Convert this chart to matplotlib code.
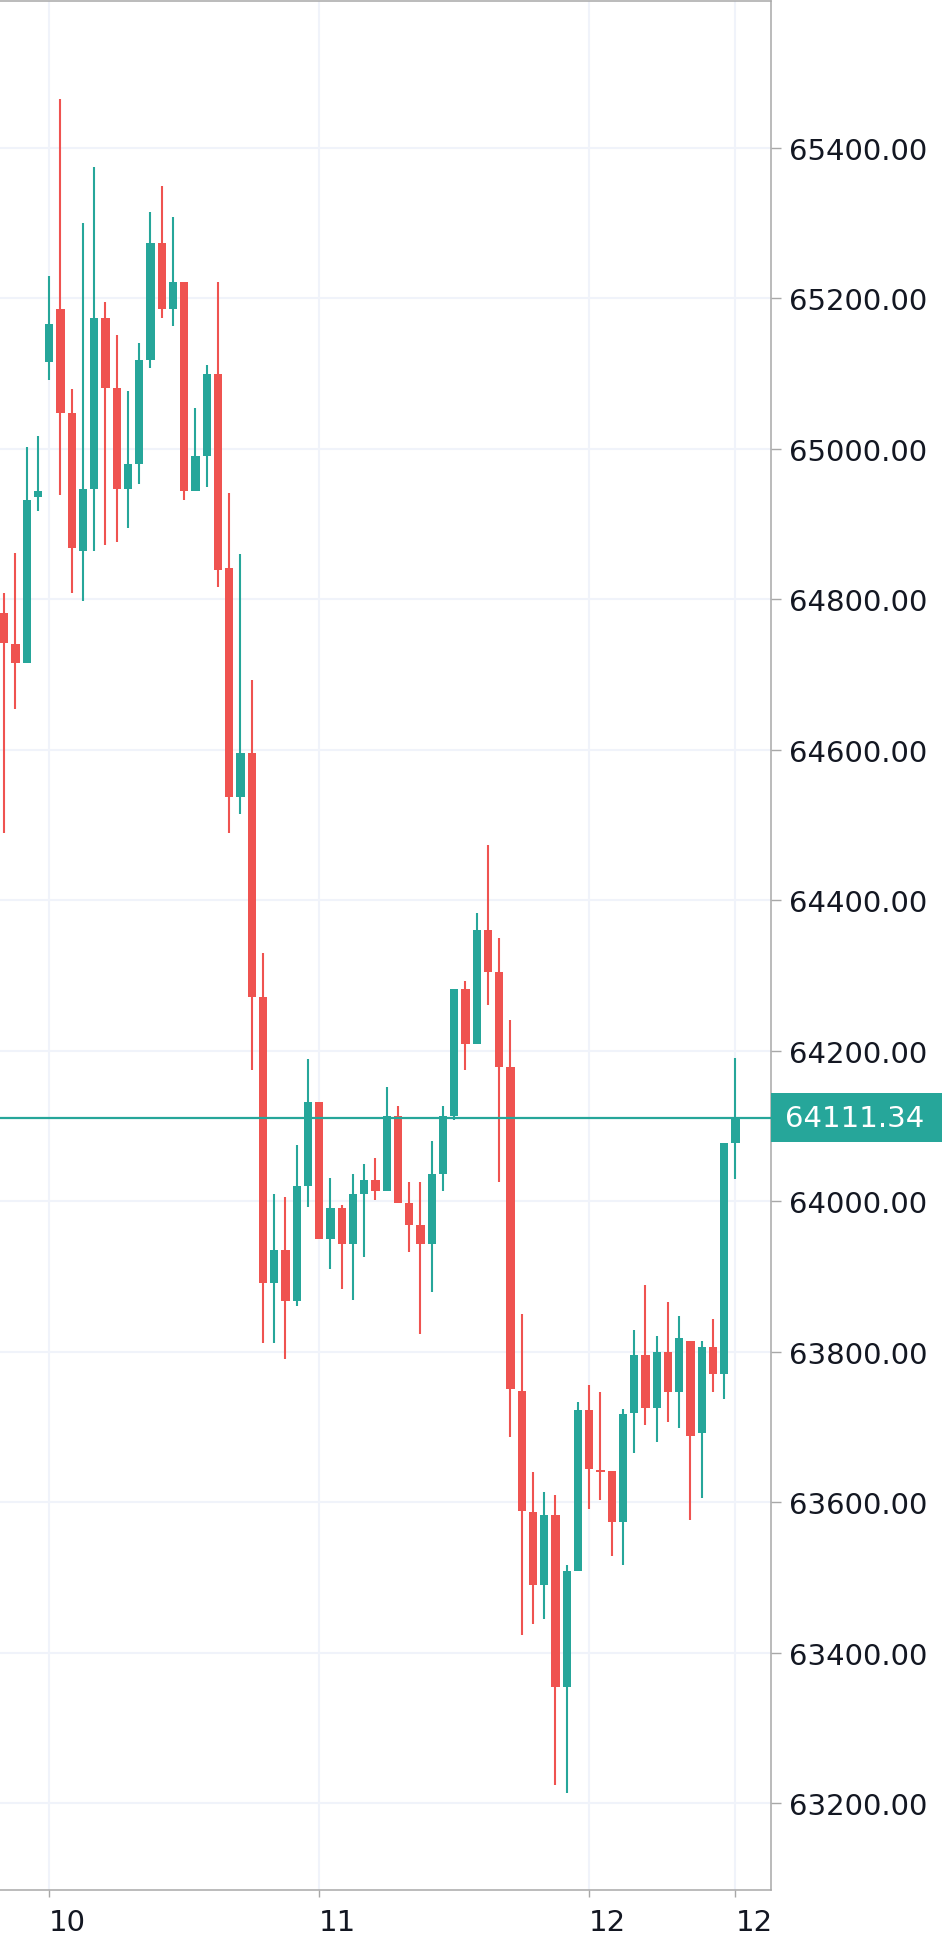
import numpy as np
import matplotlib
matplotlib.use("Agg")
import matplotlib.pyplot as plt
from matplotlib.patches import Rectangle
from matplotlib.transforms import blended_transform_factory

# hourly candles
opens = [64782, 64741, 64715, 64936, 65115, 65186, 65048, 64864, 64947, 65174,
         65081, 64947, 64980, 65118, 65274, 65186, 65222, 64944, 64991, 65099,
         64842, 64537, 64596, 64271, 63891, 63935, 63868, 64020, 64132, 63950,
         63991, 63943, 64009, 64028, 64014, 64113, 63998, 63969, 63943, 64036,
         64113, 64282, 64209, 64361, 64305, 64178, 63748, 63587, 63490, 63583,
         63355, 63509, 63722, 63642, 63642, 63573, 63718, 63795, 63725, 63799,
         63747, 63814, 63692, 63806, 63770, 64078]
highs = [64809, 64862, 65003, 65017, 65230, 65465, 65080, 65301, 65375, 65196,
         65152, 65077, 65141, 65315, 65350, 65308, 65222, 65055, 65111, 65222,
         64942, 64861, 64693, 64330, 64009, 64006, 64075, 64189, 64132, 64031,
         63995, 64036, 64050, 64058, 64152, 64126, 64025, 64025, 64080, 64126,
         64282, 64293, 64383, 64473, 64350, 64241, 63850, 63640, 63613, 63609,
         63516, 63733, 63756, 63747, 63642, 63724, 63829, 63889, 63821, 63866,
         63848, 63814, 63814, 63843, 64078, 64190]
lows = [64490, 64655, 64715, 64918, 65092, 64939, 64808, 64798, 64864, 64872,
        64876, 64895, 64954, 65107, 65174, 65163, 64932, 64944, 64950, 64817,
        64489, 64515, 64175, 63812, 63812, 63790, 63861, 63992, 63950, 63910,
        63884, 63869, 63926, 64002, 64014, 63998, 63932, 63824, 63879, 64014,
        64108, 64175, 64209, 64261, 64026, 63686, 63423, 63438, 63445, 63224,
        63213, 63509, 63591, 63603, 63528, 63517, 63666, 63703, 63680, 63706,
        63699, 63576, 63606, 63747, 63737, 64030]
closes = [64742, 64715, 64932, 64944, 65166, 65048, 64868, 64947, 65174, 65081,
          64947, 64980, 65118, 65274, 65186, 65222, 64944, 64991, 65099, 64839,
          64537, 64596, 64271, 63891, 63935, 63868, 64020, 64132, 63950, 63991,
          63943, 64009, 64028, 64014, 64113, 63998, 63969, 63943, 64036, 64113,
          64282, 64209, 64361, 64305, 64179, 63750, 63588, 63490, 63583, 63355,
          63509, 63722, 63644, 63640, 63573, 63717, 63795, 63725, 63799, 63747,
          63818, 63688, 63806, 63770, 64078, 64111.34]

last_price = 64111.34
tick_idx = [4, 28, 52, 65]
tick_labels = ["10", "11", "12", "12"]
price_ticks = list(range(63200, 65401, 200))

up_col = "#26a69a"
down_col = "#ef5350"
axis_col = "#a8a8a8"
grid_col = "#f0f3fa"
text_col = "#131722"

fig = plt.figure(figsize=(9.45, 19.58), dpi=100)
ax = fig.add_axes([0, 1 - 1891 / 1958, 771 / 945, 1891 / 1958 - 0.001])

x = np.arange(len(opens))
o = np.array(opens, dtype=float)
h = np.array(highs, dtype=float)
l = np.array(lows, dtype=float)
c = np.array(closes, dtype=float)
cols = [up_col if cc >= oo else down_col for oo, cc in zip(o, c)]

ax.vlines(x, l, h, colors=cols, linewidth=1.5, zorder=3)
body = np.where(np.abs(c - o) < 2.5, 2.5, np.abs(c - o))
ax.bar(x, body, bottom=np.minimum(o, c), width=0.74, color=cols, zorder=4)

# last price line and label
ax.axhline(last_price, color=up_col, linewidth=1.6, zorder=5)
tr = blended_transform_factory(ax.transAxes, ax.transData)
ax.add_patch(Rectangle((1.0, last_price - 33.2), 942 / 771 - 1.0, 66.4,
                       transform=tr, facecolor=up_col, edgecolor="none",
                       clip_on=False, zorder=6))
ax.text(785 / 771, last_price, f"{last_price:.2f}", transform=tr,
        ha="left", va="center", color="white", fontsize=21, zorder=7,
        clip_on=False)

ax.set_xlim(-0.373, 68.16)
ax.set_ylim(63084.5, 65595.5)

ax.set_xticks(tick_idx)
ax.set_xticklabels(tick_labels)
for lab in ax.get_xticklabels():
    lab.set_horizontalalignment("left")
ax.set_yticks(price_ticks)
ax.set_yticklabels([f"{p:.2f}" for p in price_ticks])

ax.yaxis.tick_right()
ax.tick_params(axis="y", direction="out", length=7, width=1, color=axis_col,
               labelsize=21, labelcolor=text_col, pad=6)
ax.tick_params(axis="x", direction="out", length=5, width=1, color=axis_col,
               labelsize=21, labelcolor=text_col, pad=8)

ax.grid(True, color=grid_col, linewidth=1.5, zorder=0)
ax.set_axisbelow(True)

ax.spines["left"].set_visible(False)
for s in ["right", "bottom", "top"]:
    ax.spines[s].set_color(axis_col)
    ax.spines[s].set_linewidth(1.1)

fig.savefig("out.png", dpi=100)
